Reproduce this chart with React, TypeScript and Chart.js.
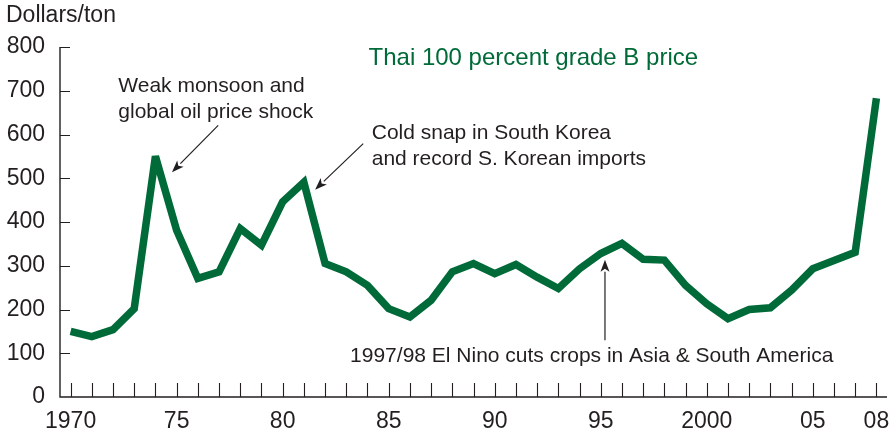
import React, { useEffect, useRef } from "react";
import { Chart, registerables } from "chart.js";

Chart.register(...registerables);

// ---- Data ----
const years: number[] = [
  1970, 1971, 1972, 1973, 1974, 1975, 1976, 1977, 1978, 1979,
  1980, 1981, 1982, 1983, 1984, 1985, 1986, 1987, 1988, 1989,
  1990, 1991, 1992, 1993, 1994, 1995, 1996, 1997, 1998, 1999,
  2000, 2001, 2002, 2003, 2004, 2005, 2006, 2007, 2008,
];
const prices: number[] = [
  150, 138, 154, 202, 550, 381, 271, 286, 385, 347,
  446, 491, 305, 286, 255, 202, 183, 221, 286, 305,
  282, 303, 274, 248, 293, 328, 351, 315, 313, 255,
  213, 179, 200, 204, 244, 293, 312, 331, 683,
];
const xTickValues: number[] = [1970, 1975, 1980, 1985, 1990, 1995, 2000, 2005, 2008];
const xTickLabels: string[] = ["1970", "75", "80", "85", "90", "95", "2000", "05", "08"];
const yTickValues: number[] = [0, 100, 200, 300, 400, 500, 600, 700, 800];

const yAxisTitle = "Dollars/ton";
const seriesTitle = "Thai 100 percent grade B price";
const noteMonsoon: string[] = ["Weak monsoon and", "global oil price shock"];
const noteKorea: string[] = ["Cold snap in South Korea", "and record S. Korean imports"];
const noteElNino: string[] = ["1997/98 El Nino cuts crops in Asia & South America"];

// ---- Styles ----
const GREEN = "#006a38";
const INK = "#231f20";
const FONT = "'Liberation Sans', Arial, Helvetica, sans-serif";

// annotation placement (data coordinates)
const notes = [
  { lines: noteMonsoon, x: 1972.25, y: 710.6, color: INK, size: 21 },
  { lines: noteKorea, x: 1984.2, y: 603.9, color: INK, size: 21 },
  { lines: noteElNino, x: 1983.18, y: 94.2, color: INK, size: 21 },
  { lines: [seriesTitle], x: 1984.05, y: 774.2, color: GREEN, size: 24 },
];
const arrows = [
  { from: [1976.96, 621], to: [1974.78, 514] },
  { from: [1983.8, 579], to: [1981.53, 474] },
  { from: [1995.2, 129.6], to: [1995.2, 314] },
];

const axesPlugin = {
  id: "customAxes",
  beforeDatasetsDraw(chart: any) {
    const { ctx, chartArea, scales } = chart;
    const { left, right, top, bottom } = chartArea;
    const x = scales.x;
    const y = scales.y;
    ctx.save();
    ctx.strokeStyle = INK;
    ctx.lineWidth = 1.4;
    ctx.beginPath();
    ctx.moveTo(left, top);
    ctx.lineTo(left, bottom);
    ctx.lineTo(right, bottom);
    ctx.stroke();
    ctx.lineWidth = 1.1;
    ctx.beginPath();
    for (const yr of years) {
      const px = Math.round(x.getPixelForValue(yr)) + 0.5;
      ctx.moveTo(px, bottom);
      ctx.lineTo(px, bottom - 14);
    }
    for (const v of yTickValues) {
      if (v === 0) continue;
      const py = Math.round(y.getPixelForValue(v)) + 0.5;
      ctx.moveTo(left, py);
      ctx.lineTo(left + 10, py);
    }
    ctx.stroke();
    // y axis title
    ctx.fillStyle = INK;
    ctx.font = `23px ${FONT}`;
    ctx.textAlign = "left";
    ctx.textBaseline = "middle";
    ctx.fillText(yAxisTitle, 6, 16);
    ctx.restore();
  },
  beforeDatasetDraw(chart: any) {
    chart.ctx.save();
    chart.ctx.miterLimit = 2.2;
  },
  afterDatasetDraw(chart: any) {
    chart.ctx.restore();
  },
  afterDatasetsDraw(chart: any) {
    const { ctx, scales } = chart;
    const x = scales.x;
    const y = scales.y;
    ctx.save();
    ctx.textAlign = "left";
    ctx.textBaseline = "middle";
    for (const n of notes) {
      ctx.fillStyle = n.color;
      ctx.font = `${n.size}px ${FONT}`;
      const px = x.getPixelForValue(n.x);
      const py = y.getPixelForValue(n.y);
      n.lines.forEach((t: string, i: number) => ctx.fillText(t, px, py + i * 26));
    }
    ctx.strokeStyle = INK;
    ctx.fillStyle = INK;
    ctx.lineWidth = 1.2;
    for (const a of arrows) {
      const x1 = x.getPixelForValue(a.from[0]);
      const y1 = y.getPixelForValue(a.from[1]);
      const x2 = x.getPixelForValue(a.to[0]);
      const y2 = y.getPixelForValue(a.to[1]);
      const ang = Math.atan2(y2 - y1, x2 - x1);
      const hl = 12;
      const hw = 4.5;
      const bx = x2 - hl * Math.cos(ang);
      const by = y2 - hl * Math.sin(ang);
      ctx.beginPath();
      ctx.moveTo(x1, y1);
      ctx.lineTo(bx, by);
      ctx.stroke();
      ctx.beginPath();
      ctx.moveTo(x2, y2);
      ctx.lineTo(bx + hw * Math.sin(ang), by - hw * Math.cos(ang));
      ctx.lineTo(bx + 3 * Math.cos(ang), by + 3 * Math.sin(ang));
      ctx.lineTo(bx - hw * Math.sin(ang), by + hw * Math.cos(ang));
      ctx.closePath();
      ctx.fill();
    }
    ctx.restore();
  },
};

export default function App() {
  const canvasRef = useRef<HTMLCanvasElement | null>(null);

  useEffect(() => {
    if (!canvasRef.current) return;
    const chart = new Chart(canvasRef.current, {
      type: "line",
      data: {
        datasets: [
          {
            data: years.map((yr, i) => ({ x: yr, y: prices[i] })),
            borderColor: GREEN,
            borderWidth: 7.5,
            pointRadius: 0,
            tension: 0,
            fill: false,
            borderJoinStyle: "miter",
            borderCapStyle: "butt",
          },
        ],
      },
      options: {
        animation: false,
        responsive: true,
        maintainAspectRatio: false,
        layout: { padding: { top: 47, right: 3, left: 0, bottom: 0 } },
        plugins: { legend: { display: false }, tooltip: { enabled: false }, title: { display: false } },
        scales: {
          x: {
            type: "linear",
            min: 1969.5,
            max: 2008.5,
            afterBuildTicks: (s: any) => {
              s.ticks = xTickValues.map((v) => ({ value: v }));
            },
            afterFit: (s: any) => {
              s.height = 37;
              s.paddingLeft = 0;
              s.paddingRight = 0;
            },
            grid: { display: false, drawTicks: false },
            border: { display: false },
            ticks: {
              autoSkip: false,
              maxRotation: 0,
              padding: 11,
              color: INK,
              font: { family: FONT, size: 23 },
              callback: (v: any) => {
                const i = xTickValues.indexOf(Number(v));
                return i >= 0 ? xTickLabels[i] : "";
              },
            },
          },
          y: {
            min: 0,
            max: 800,
            afterBuildTicks: (s: any) => {
              s.ticks = yTickValues.map((v) => ({ value: v }));
            },
            afterFit: (s: any) => {
              s.width = 60;
              s.paddingTop = 0;
              s.paddingBottom = 0;
            },
            grid: { display: false, drawTicks: false },
            border: { display: false },
            ticks: {
              padding: 15,
              color: INK,
              font: { family: FONT, size: 23 },
            },
          },
        },
      },
      plugins: [axesPlugin],
    });
    return () => chart.destroy();
  }, []);

  return (
    <div style={{ position: "absolute", left: 0, top: 0, width: 890, height: 434, background: "#fff" }}>
      <canvas ref={canvasRef} />
    </div>
  );
}
